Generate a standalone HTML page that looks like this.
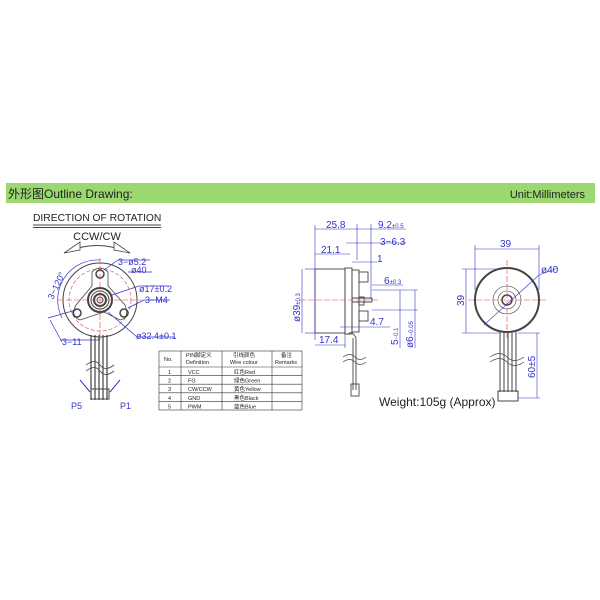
<!DOCTYPE html>
<html><head><meta charset="utf-8"><style>
body{margin:0;background:#fff;width:600px;height:600px;overflow:hidden}
svg{display:block}
text{font-family:"Liberation Sans","Noto Sans CJK SC",sans-serif}
</style></head><body>
<svg width="600" height="600" viewBox="0 0 600 600" xmlns="http://www.w3.org/2000/svg">
<rect x="6" y="183" width="589" height="20" fill="#9bd86f"/>
<text x="8" y="198" font-size="12" fill="#222">外形图Outline Drawing:</text>
<text x="585" y="198" font-size="11" fill="#222" text-anchor="end">Unit:Millimeters</text>

<!-- left front view -->
<text x="33" y="221" font-size="10.3" fill="#222">DIRECTION OF ROTATION</text>
<line x1="33" y1="225" x2="161" y2="225" stroke="#444"/><line x1="33" y1="227.5" x2="161" y2="227.5" stroke="#444"/>
<text x="97" y="240" font-size="11" fill="#222" text-anchor="middle">CCW/CW</text>
<path d="M64 253 Q97 238 130 253" fill="none" stroke="#444"/>
<path d="M64 253 L80 242 L80 250 Z M130 253 L114 242 L114 250 Z" fill="#fff" stroke="#444" stroke-width="0.8"/>
<g stroke="#444" fill="none">
<circle cx="100" cy="300" r="37" stroke-width="1"/>
<circle cx="100" cy="300" r="31" stroke="#d44" stroke-width="0.6" stroke-dasharray="4 2"/>
<path d="M92 272 Q100 264 108 272 L108 286 L125 305 Q130 318 120 320 L104 312 L80 320 Q70 316 76 305 L92 286 Z" stroke-width="0.8"/>
<circle cx="100" cy="300" r="12" stroke-width="2"/>
<circle cx="100" cy="300" r="9"/>
<circle cx="100" cy="300" r="6" stroke-width="2"/>
<circle cx="100" cy="300" r="3"/>
<circle cx="100" cy="274" r="4" stroke-width="1.5"/>
<circle cx="77" cy="313" r="4" stroke-width="1.5"/>
<circle cx="124" cy="313" r="4" stroke-width="1.5"/>
<path d="M91 335 V400 M95 335 V400 M99 335 V400 M103 335 V400 M107 335 V400" stroke-width="1.2"/>
<rect x="91" y="389" width="18" height="10" stroke-width="1"/>
<path d="M86 365 Q95 358 100 365 T114 365 M86 371 Q95 364 100 371 T114 371" stroke-width="0.8"/>
<line x1="80" y1="380" x2="90" y2="392" stroke="#33c"/><line x1="120" y1="380" x2="110" y2="392" stroke="#33c"/>
</g>
<g stroke="#d44" stroke-width="0.6" stroke-dasharray="6 2">
<line x1="58" y1="300" x2="142" y2="300"/><line x1="100" y1="258" x2="100" y2="340"/>
</g>
<g stroke="#33c" stroke-width="0.7" fill="none">
<path d="M62 318 A40 40 0 0 1 100 260"/>
<line x1="104" y1="270" x2="118" y2="260"/><line x1="118" y1="260" x2="150" y2="260"/>
<line x1="128" y1="272" x2="152" y2="272"/><line x1="112" y1="295" x2="139" y2="286"/><line x1="139" y1="286" x2="168" y2="286"/>
<line x1="128" y1="308" x2="144" y2="300"/><line x1="144" y1="300" x2="170" y2="300"/>
<line x1="108" y1="312" x2="137" y2="337"/><line x1="137" y1="337" x2="175" y2="337"/>
<line x1="50" y1="320" x2="62" y2="342"/><line x1="60" y1="340" x2="100" y2="340"/>
<line x1="48" y1="318" x2="76" y2="310"/>
</g>
<g fill="#33c" font-size="9">
<text x="118" y="265">3−ø5.2</text><text x="131" y="273">ø40</text>
<text x="139" y="292">ø17±0.2</text><text x="145" y="303">3−M4</text>
<text x="136" y="339">ø32.4±0.1</text><text x="62" y="345">3−11</text>
<text x="53" y="300" transform="rotate(-65 53 300)">3−120°</text>
<text x="71" y="409" font-family="Liberation Serif">P5</text><text x="120" y="409" font-family="Liberation Serif">P1</text>
</g>

<!-- table -->
<g stroke="#333" stroke-width="0.6" fill="none">
<rect x="159" y="351" width="143" height="59"/>
<line x1="159" y1="367" x2="302" y2="367"/><line x1="159" y1="375.6" x2="302" y2="375.6"/>
<line x1="159" y1="384.2" x2="302" y2="384.2"/><line x1="159" y1="392.8" x2="302" y2="392.8"/><line x1="159" y1="401.4" x2="302" y2="401.4"/>
<line x1="181" y1="351" x2="181" y2="410"/><line x1="222" y1="351" x2="222" y2="410"/><line x1="272" y1="351" x2="272" y2="410"/>
</g>
<g font-size="5.5" fill="#222">
<text x="164" y="361">No.</text><text x="186" y="357">PIN脚定义</text><text x="186" y="364">Definition</text>
<text x="233" y="357">引线颜色</text><text x="230" y="364">Wire colour</text>
<text x="281" y="357">备注</text><text x="275" y="364">Remarks</text>
<text x="168" y="374">1</text><text x="188" y="374">VCC</text><text x="234" y="374">红色Red</text>
<text x="168" y="382.6">2</text><text x="188" y="382.6">FG</text><text x="234" y="382.6">绿色Green</text>
<text x="168" y="391.2">3</text><text x="188" y="391.2">CW/CCW</text><text x="234" y="391.2">黄色Yellow</text>
<text x="168" y="399.8">4</text><text x="188" y="399.8">GND</text><text x="234" y="399.8">黑色Black</text>
<text x="168" y="408.4">5</text><text x="188" y="408.4">PWM</text><text x="234" y="408.4">蓝色Blue</text>
</g>

<!-- side view -->
<g stroke="#444" fill="none" stroke-width="0.9">
<rect x="315" y="269" width="30" height="64"/>
<rect x="345" y="268" width="7" height="66"/>
<rect x="352" y="270" width="7" height="62"/>
<rect x="359" y="272" width="9" height="10"/><rect x="359" y="311" width="9" height="10"/>
<rect x="359" y="297" width="5" height="8"/>
<line x1="352" y1="298" x2="372" y2="298"/><line x1="352" y1="302" x2="372" y2="302"/><line x1="372" y1="298" x2="372" y2="302"/>
<path d="M348 334 Q352 330 356 338 V390" /><line x1="353" y1="338" x2="353" y2="390"/>
<path d="M343 357 Q350 352 355 357 T366 357 M343 362 Q350 357 355 362 T366 362" stroke-width="0.7"/>
<rect x="351" y="384" width="8" height="12"/>
</g>
<line x1="300" y1="300" x2="378" y2="300" stroke="#d44" stroke-width="0.6" stroke-dasharray="6 2"/>
<g stroke="#33c" stroke-width="0.6" fill="none">
<line x1="315" y1="225" x2="315" y2="340"/><line x1="315" y1="229" x2="357" y2="229"/><line x1="357" y1="224" x2="357" y2="260"/>
<line x1="371" y1="224" x2="371" y2="300"/><line x1="357" y1="229" x2="406" y2="229"/>
<line x1="346" y1="243" x2="370" y2="243"/><line x1="370" y1="243" x2="406" y2="243"/>
<line x1="315" y1="254" x2="350" y2="254"/><line x1="352" y1="262" x2="377" y2="262"/>
<line x1="372" y1="285" x2="403" y2="285"/>
<line x1="305" y1="269" x2="315" y2="269"/><line x1="305" y1="333" x2="315" y2="333"/><line x1="302" y1="269" x2="302" y2="333"/>
<line x1="315" y1="345" x2="345" y2="345"/><line x1="345" y1="330" x2="345" y2="348"/>
<line x1="340" y1="327" x2="390" y2="327"/>
<line x1="400" y1="290" x2="400" y2="348"/><line x1="415" y1="290" x2="415" y2="348"/>
<line x1="372" y1="290" x2="418" y2="290"/><line x1="372" y1="310" x2="418" y2="310"/>
</g>
<g fill="#33c" font-size="10">
<text x="326" y="228">25.8</text><text x="378" y="228">9.2<tspan font-size="6">±0.5</tspan></text>
<text x="380" y="245">3−6.3</text><text x="321" y="253">21.1</text><text x="377" y="262">1</text>
<text x="384" y="284">6<tspan font-size="6">±0.3</tspan></text><text x="370" y="325">4.7</text><text x="319" y="343">17.4</text>
<text x="300" y="322" transform="rotate(-90 300 322)">ø39<tspan font-size="6">±0.3</tspan></text>
<text x="398" y="345" transform="rotate(-90 398 345)">5<tspan font-size="6">−0.1</tspan></text>
<text x="413" y="348" transform="rotate(-90 413 348)">ø6<tspan font-size="6">−0.05</tspan></text>
</g>
<text x="379" y="406" font-size="12" fill="#222">Weight:105g (Approx)</text>

<!-- right view -->
<g stroke="#444" fill="none">
<circle cx="507" cy="300" r="32" stroke-width="2"/>
<circle cx="507" cy="300" r="14" stroke-width="0.6"/>
<circle cx="507" cy="300" r="9" stroke-width="0.6"/>
<circle cx="507" cy="300" r="5" stroke-width="1.5"/>
<path d="M500 332 V392 M504 332 V392 M508 332 V392 M512 332 V392 M516 332 V392" stroke-width="1"/>
<rect x="498" y="391" width="20" height="10"/>
<path d="M490 357 Q500 350 507 357 T524 357 M490 362 Q500 355 507 362 T524 362" stroke-width="0.7"/>
</g>
<g stroke="#d44" stroke-width="0.6" stroke-dasharray="6 2"><line x1="468" y1="300" x2="546" y2="300"/><line x1="507" y1="260" x2="507" y2="340"/></g>
<g stroke="#33c" stroke-width="0.6" fill="none">
<line x1="475" y1="245" x2="475" y2="290"/><line x1="539" y1="245" x2="539" y2="290"/><line x1="475" y1="249" x2="539" y2="249"/>
<line x1="462" y1="269" x2="500" y2="269"/><line x1="462" y1="333" x2="500" y2="333"/><line x1="466" y1="269" x2="466" y2="333"/>
<line x1="484" y1="325" x2="539" y2="275"/><line x1="539" y1="275" x2="558" y2="268"/>
<line x1="518" y1="333" x2="540" y2="333"/><line x1="518" y1="398" x2="540" y2="398"/><line x1="537" y1="333" x2="537" y2="398"/>
</g>
<g fill="#33c" font-size="10">
<text x="500" y="247">39</text><text x="541" y="273">ø40</text>
<text x="464" y="306" transform="rotate(-90 464 306)">39</text>
<text x="535" y="378" transform="rotate(-90 535 378)">60±5</text>
</g>
</svg>
</body></html>
